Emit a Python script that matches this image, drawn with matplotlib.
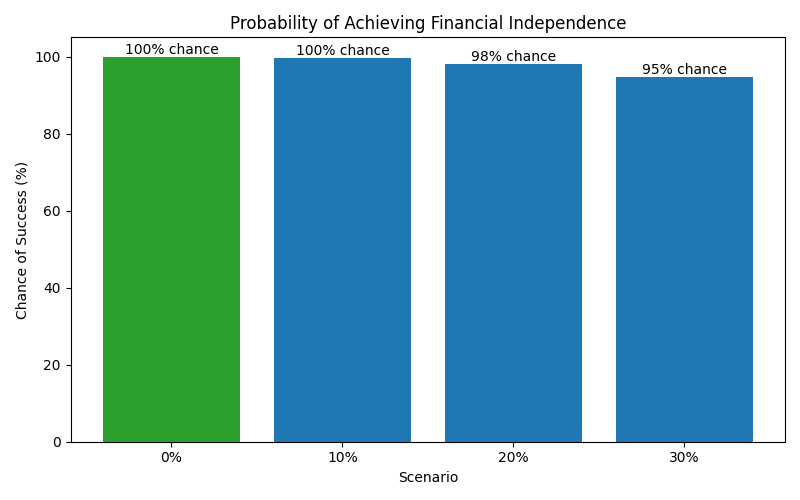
import matplotlib
matplotlib.use("Agg")
import matplotlib.pyplot as plt

scenarios = ["0%", "10%", "20%", "30%"]
success = [100.0, 99.55, 98.1, 94.7]
colors = ["#2ca02c", "#1f77b4", "#1f77b4", "#1f77b4"]

fig, ax = plt.subplots(figsize=(8, 5), dpi=100)
bars = ax.bar(scenarios, success, color=colors)
for b, v in zip(bars, success):
    ax.text(b.get_x() + b.get_width() / 2, v, f"{v:.0f}% chance", ha="center", va="bottom")
ax.set_title("Probability of Achieving Financial Independence")
ax.set_xlabel("Scenario")
ax.set_ylabel("Chance of Success (%)")
fig.tight_layout()
fig.savefig("out.png")
